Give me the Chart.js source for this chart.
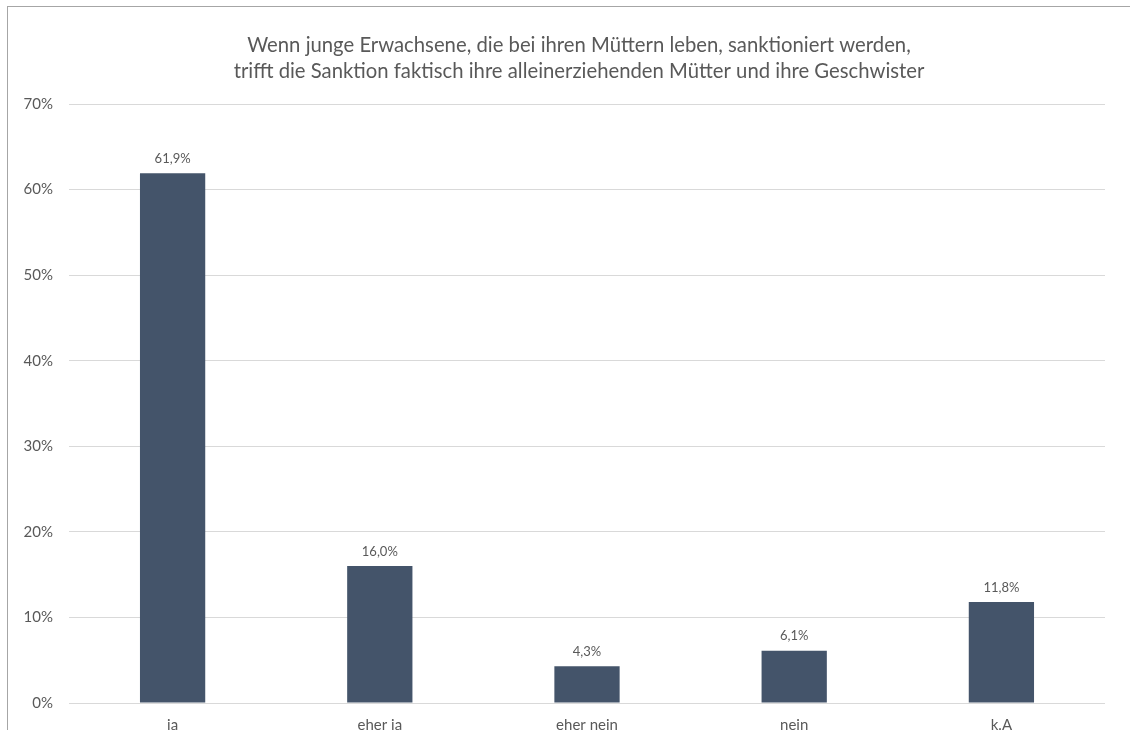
<!DOCTYPE html>
<html lang="de">
<head>
<meta charset="utf-8">
<script src="https://cdn.jsdelivr.net/npm/chart.js"></script>
<style>
  html, body { margin: 0; padding: 0; background: #fff; overflow: hidden; }
  #wrap { position: relative; width: 1130px; height: 730px; overflow: hidden; }
  #frame { position: absolute; left: 7px; top: 6px; width: 1200px; height: 800px;
           border-left: 1.5px solid #a6a6a6; border-top: 1.5px solid #a6a6a6; }
  #box { position: absolute; left: 0; top: 0; width: 1130px; height: 750px; }
</style>
</head>
<body>
<div id="wrap">
  <div id="frame"></div>
  <div id="box"><canvas id="chart"></canvas></div>
</div>
<script>
const titleLines = [
    'Wenn junge Erwachsene, die bei ihren Müttern leben, sanktioniert werden,',
    'trifft die Sanktion faktisch ihre alleinerziehenden Mütter und ihre Geschwister'
];
const categories = ['ja', 'eher ja', 'eher nein', 'nein', 'k.A'];
const shares = [61.9, 16.0, 4.3, 6.1, 11.8];
const yTicks = [0, 10, 20, 30, 40, 50, 60, 70];

const FONT = 'Lato, "Open Sans", sans-serif';
const TEXT = '#595959';

// Titel selbst zeichnen: sitzt etwas rechts der Mitte
const chartTitle = {
    id: 'chartTitle',
    afterDraw(chart) {
        const ctx = chart.ctx;
        ctx.save();
        ctx.font = '20.3px ' + FONT;
        ctx.fillStyle = TEXT;
        ctx.textAlign = 'center';
        ctx.textBaseline = 'middle';
        titleLines.forEach((line, i) => ctx.fillText(line, 579, 45 + i * 26));
        ctx.restore();
    }
};

// Werte über den Balken, deutsches Dezimalkomma
const valueLabels = {
    id: 'valueLabels',
    afterDatasetsDraw(chart) {
        const ctx = chart.ctx;
        const meta = chart.getDatasetMeta(0);
        ctx.save();
        ctx.font = '13px ' + FONT;
        ctx.fillStyle = TEXT;
        ctx.textAlign = 'center';
        ctx.textBaseline = 'bottom';
        meta.data.forEach((bar, i) => {
            const txt = shares[i].toFixed(1).replace('.', ',') + '%';
            ctx.fillText(txt, bar.x, bar.y - 8);
        });
        ctx.restore();
    }
};

new Chart(document.getElementById('chart'), {
    type: 'bar',
    data: {
        labels: categories,
        datasets: [{
            data: shares,
            backgroundColor: '#44546A',
            categoryPercentage: 1,
            barPercentage: 0.315
        }]
    },
    options: {
        responsive: true,
        maintainAspectRatio: false,
        animation: false,
        layout: { padding: { left: 0, right: 25, top: 104, bottom: 0 } },
        plugins: {
            legend: { display: false },
            tooltip: { enabled: false },
            title: { display: false }
        },
        scales: {
            x: {
                grid: { display: false },
                border: { display: false },
                ticks: { color: TEXT, font: { family: FONT, size: 15 }, padding: 5 },
                afterFit(s) { s.height = 47; }
            },
            y: {
                min: 0,
                max: 70,
                afterBuildTicks(s) { s.ticks = yTicks.map(v => ({ value: v })); },
                grid: { color: '#d9d9d9', lineWidth: 1, drawTicks: false },
                border: { display: false },
                ticks: {
                    color: TEXT,
                    font: { family: FONT, size: 15 },
                    padding: 16,
                    callback: v => v + '%'
                },
                afterFit(s) { s.width = 69; }
            }
        }
    },
    plugins: [valueLabels, chartTitle]
});
</script>
</body>
</html>
